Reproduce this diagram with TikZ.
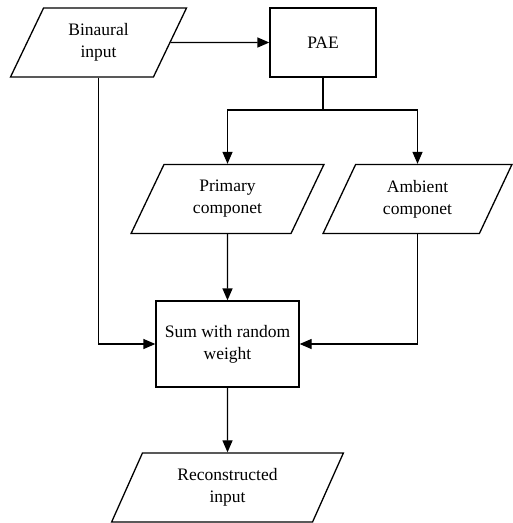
\documentclass[tikz,border=0pt]{standalone}
\usepackage{fontspec}
\setmainfont{Liberation Serif}
\usetikzlibrary{shapes.geometric,arrows.meta}
\begin{document}
\begin{tikzpicture}[x=1pt,y=-1pt,
  every node/.style={font=\fontsize{17.5}{22}\selectfont, align=center, line width=1.3pt},
  io/.style={draw, trapezium, trapezium left angle=64.4, trapezium right angle=115.6,
    trapezium stretches=true, minimum height=69pt, inner sep=0pt},
  proc/.style={draw, rectangle, inner sep=0pt},
  conn/.style={line width=1.3pt},
  arr/.style={conn, -{Triangle[length=12pt,width=10pt]}}]
\useasboundingbox (0,0) rectangle (513,523);
\node[io, minimum width=177pt] (bin) at (98.5,42.5) {Binaural\\input};
\node[proc, minimum width=106pt, minimum height=69pt] (pae) at (323,42.5) {PAE};
\node[io, minimum width=193pt] (prim) at (227.5,199) {Primary\\componet};
\node[io, minimum width=189pt] (amb) at (417.5,199) {Ambient\\componet};
\node[proc, minimum width=143pt, minimum height=86pt] (sum) at (227.5,344) {Sum with random\\weight};
\node[io, minimum width=232pt] (rec) at (227.5,487.5) {Reconstructed\\input};
\coordinate (j) at (323,110);
\draw[arr] (bin.east) -- (pae.west);
\draw[conn] (pae.south) -- (j);
\draw[arr] (j) -| (prim.north);
\draw[arr] (j) -| (amb.north);
\draw[arr] (prim.south) -- (sum.north);
\draw[arr] (bin.south) |- (sum.west);
\draw[arr] (amb.south) |- (sum.east);
\draw[arr] (sum.south) -- (rec.north);
\end{tikzpicture}
\end{document}
